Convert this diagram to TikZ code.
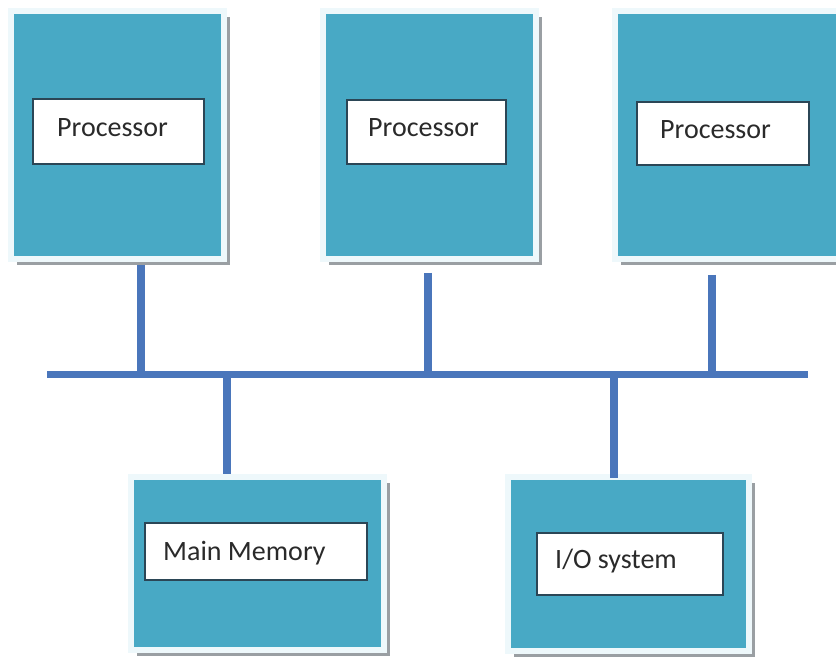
\documentclass[tikz,border=0pt]{standalone}
\usepackage{fontspec}
\setmainfont{Carlito}
\usetikzlibrary{shadows}
\definecolor{unitteal}{HTML}{48A9C5}
\definecolor{unitframe}{HTML}{EEF8FB}
\definecolor{unitshadow}{HTML}{9A9FA3}
\definecolor{busblue}{HTML}{4A76BB}
\definecolor{labelframe}{HTML}{2B4656}
\definecolor{labeltext}{HTML}{2A2A2A}
\tikzset{
  unit/.style={rectangle, fill=unitteal, draw=unitframe, line width=6pt,
    inner sep=0pt,
    drop shadow={shadow xshift=6pt, shadow yshift=-6pt, fill=unitshadow, opacity=1}},
  tag/.style={rectangle, fill=white, draw=labelframe, line width=2pt, inner sep=0pt},
  caption/.style={anchor=base west, inner sep=0pt, text=labeltext,
    font=\fontsize{28}{34}\selectfont},
  bus/.style={busblue, line width=7pt},
  tap/.style={busblue, line width=8pt},
}
\begin{document}
\begin{tikzpicture}[x=1pt, y=-1pt]
\useasboundingbox (0,0) rectangle (836,660);
\fill[white] (0,0) rectangle (836,660);
\clip (0,0) rectangle (836,660);

% processor units
\node[unit, minimum width=213pt, minimum height=248pt] (cpu1) at (117.5,135) {};
\node[unit, minimum width=213pt, minimum height=248pt] (cpu2) at (429.5,135) {};
\node[unit, minimum width=225pt, minimum height=248pt] (cpu3) at (727.5,135) {};
% memory and I/O units
\node[unit, minimum width=253pt, minimum height=173pt] (mem) at (257.5,563.5) {};
\node[unit, minimum width=241pt, minimum height=174pt] (io) at (628.5,564) {};

% label boxes
\node[tag, minimum width=171pt, minimum height=65pt] (cpu1tag) at (118.5,131.5) {};
\node[tag, minimum width=159pt, minimum height=64pt] (cpu2tag) at (426.5,132) {};
\node[tag, minimum width=172pt, minimum height=63pt] (cpu3tag) at (723,133.5) {};
\node[tag, minimum width=222pt, minimum height=57pt] (memtag) at (256,551.5) {};
\node[tag, minimum width=186pt, minimum height=62pt] (iotag) at (630,564) {};

\node[caption] (cpu1txt) at (57,137) {Processor};
\node[caption] (cpu2txt) at (368,137) {Processor};
\node[caption] (cpu3txt) at (660,139) {Processor};
\node[caption] (memtxt) at (163,560) {Main Memory};
\node[caption] (iotxt) at (555,568) {I/O system};

% shared bus
\coordinate (busL) at (47,375);
\coordinate (busR) at (808,375);
\draw[bus] (busL) -- (busR);

% taps on the bus
\coordinate (t1) at (141,375);
\coordinate (t2) at (428,375);
\coordinate (t3) at (712,375);
\coordinate (tm) at (227,375);
\coordinate (ti) at (614,375);

\draw[tap] (t1 |- cpu1.south) ++(0,3) -- (t1);
\draw[tap] (t2 |- cpu2.south) ++(0,11) -- (t2);
\draw[tap] (t3 |- cpu3.south) ++(0,13) -- (t3);
\draw[tap] (tm) -- (tm |- mem.north);
\draw[tap] (ti) -- ([yshift=-4pt]ti |- io.north);
\end{tikzpicture}
\end{document}
